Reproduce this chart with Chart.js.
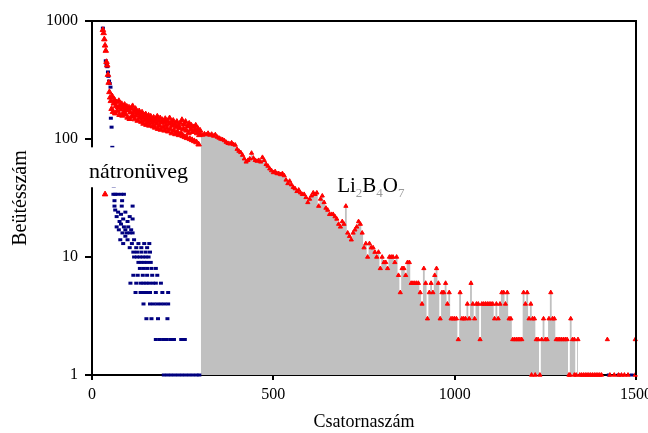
<!DOCTYPE html>
<html><head><meta charset="utf-8">
<script src="https://cdn.jsdelivr.net/npm/chart.js@4.4.1/dist/chart.umd.min.js"></script>
<style>html,body{margin:0;padding:0;background:#fff;} canvas{display:block;}</style>
</head><body>
<canvas id="c" width="648" height="433"></canvas>
<script>
// ---- tick labels & texts ----
const xTickValues = [0, 500, 1000, 1500];
const yTickValues = [1, 10, 100, 1000];
const xTitle = 'Csatornaszám';
const yTitle = 'Beütésszám';
const natronName = 'nátronüveg';
const liNameParts = [['Li', false], ['2', true], ['B', false], ['4', true], ['O', false], ['7', true]];

// ---- Li2B4O7 spectrum (red triangles) ----
const liHeadChannels = [30, 32, 34, 36, 38, 40, 42, 44, 46, 48, 50];
const liHeadCounts = [840, 790, 700, 620, 560, 450, 420, 350, 300, 250, 225];

const liBlobStart = 52, liBlobStep = 2;
const liBlobCounts = [
  210,180,230,170,200,215,165,190,205,172,185,210,160,192,178,198,158,185,170,195,
  162,180,188,152,175,185,148,168,182,155,190,160,172,147,180,158,170,143,165,172,
  150,160,140,168,152,135,158,145,162,132,150,140,158,130,148,155,136,145,128,152,
  140,125,148,135,155,122,142,130,150,120,138,145,126,140,118,148,132,124,142,116,
  135,150,122,138,112,130,143,118,134,110,126,140,115,130,108,124,136,112,145,106,
  122,133,104,140,118,102,128,112,135,100,120,130,98,115,126,96,118,130,94,112,
  122,90,108,118
];

const liTailStart = 300, liTailStep = 5;
const liTailCounts = [
  110,108,111,109,112,108,110,106,109,104,
  102,100,99,97,94,92,91,93,90,89,
  82,79,77,73,68,64,66,68,76,69,
  66,65,66,64,70,66,61,59,56,54,
  52,53,51,51,50,51,49,45,42,44,
  41,39,38,36,37,35,34,34,32,29,
  31,33,35,34,35,27,31,33,29,26,
  25,23,23,23,22,21,19,18,20,19,
  27,16,15,14,16,17,18,20,19,16,
  12,13,10,13,12,12,11,10,11,8,
  10,9,9,8,10,10,10,9,10,7,
  5,8,8,7,9,9,6,6,6,6,
  6,5,4,8,6,3,5,6,5,7,
  8,6,3,5,5,6,4,5,3,3,
  3,3,2,5,3,3,3,4,3,6,
  4,3,4,4,2,4,4,4,4,4,
  4,4,3,4,3,4,5,5,4,5,
  3,3,2,2,2,2,2,2,5,4,
  5,3,4,3,3,2,2,1,2,3,
  2,2,3,5,3,3,2,2,2,2,
  2,2,2,1,3,2,2,1,2
];

const liExtraChannels = [36, 1212, 1222, 1318, 1330,
  1345,1350,1355,1360,1365,1370,1375,1380,1385,1390,1395,1400,1405,
  1421,1428,1440,1452,1460,1468,1478,1498,1498];
const liExtraCounts = [34, 1, 1, 1, 1,
  1,1,1,1,1,1,1,1,1,1,1,1,1,
  2,1,1,1,1,1,1,2,1];

// ---- nátronüveg spectrum (blue dashes) ----
const natronChannels = [
  30,38,40,42,44,45,47,49,51,52,54,56,58,60,
  59,64,70,80,88, 62,83, 62,82,112,
  64,68,72,76,80,86,92,98,104,112,
  68,74,80,84,88,92,96,100,104,108,112,
  78,86,92,98,104,110,116,122,128,136,144,152,158,
  114,124,136,148,160,
  116,124,132,140,148,156,
  128,136,144,152,162,
  132,142,152,164,176,
  114,126,140,152,166,180,
  106,122,134,142,150,158,168,176,190,
  120,134,142,150,160,176,194,210,
  142,160,170,180,190,200,210,
  150,164,182,208,
  176,186,196,206,216,226,246,256,
  198,208,218,228,238,248,258,268,278,288,296,
  1425,1452,1488
];
const natronCounts = [
  870,460,430,410,370,340,310,295,275,150,126,85,55,40,
  34,34,34,34,34, 30,30, 27,27,27,
  25,22,24,20,23,21,24,20,22,21,
  18,17,19,16,18,17,16,18,16,17,16,
  14,13,15,14,12,13,14,12,13,12,13,12,13,
  11,11,11,11,11,
  10,10,10,10,10,10,
  9,9,9,9,9,
  8,8,8,8,8,
  7,7,7,7,7,7,
  6,6,6,6,6,6,6,6,6,
  5,5,5,5,5,5,5,5,
  4,4,4,4,4,4,4,
  3,3,3,3,
  2,2,2,2,2,2,2,2,
  1,1,1,1,1,1,1,1,1,1,1,
  1,1,1
];

// ---- label anchors (data coordinates) ----
const natronBox = {ch0: -16, ch1: 288, top: 85, bottom: 39};
const natronText = {ch: -8, count: 47};
const liText = {ch: 676, count: 35.5};

// ---- build points ----
const pairs = (chs, cnts) => chs.map((c, i) => ({x: c, y: cnts[i]}));
const tailPts = liTailCounts.map((v, i) => ({x: liTailStart + i * liTailStep, y: v}));
const liPts = [
  ...pairs(liHeadChannels, liHeadCounts),
  ...liBlobCounts.map((v, i) => ({x: liBlobStart + i * liBlobStep, y: v})),
  ...tailPts,
  ...pairs(liExtraChannels, liExtraCounts)
];
const natronPts = pairs(natronChannels, natronCounts);

const SERIF = "'Liberation Serif', 'Times New Roman', serif";

const overlay = {
  id: 'overlay',
  afterDraw(chart) {
    const {ctx, chartArea: a, scales: {x, y}} = chart;
    ctx.save();
    ctx.strokeStyle = '#000';
    ctx.lineWidth = 2;
    ctx.beginPath();
    ctx.moveTo(a.left - 1, a.top);
    ctx.lineTo(a.right, a.top);
    ctx.lineTo(a.right, a.bottom);
    ctx.stroke();
    const bx0 = x.getPixelForValue(natronBox.ch0), bx1 = x.getPixelForValue(natronBox.ch1);
    const by0 = y.getPixelForValue(natronBox.top), by1 = y.getPixelForValue(natronBox.bottom);
    ctx.fillStyle = '#fff';
    ctx.fillRect(bx0, by0, bx1 - bx0, by1 - by0);
    ctx.fillStyle = '#000';
    ctx.font = '22px ' + SERIF;
    ctx.textBaseline = 'alphabetic';
    ctx.textAlign = 'left';
    ctx.fillText(natronName, x.getPixelForValue(natronText.ch), y.getPixelForValue(natronText.count));
    let px = x.getPixelForValue(liText.ch);
    const py = y.getPixelForValue(liText.count);
    for (const [t, sub] of liNameParts) {
      if (sub) {
        ctx.font = '13px ' + SERIF;
        ctx.fillStyle = '#999';
        ctx.fillText(t, px, py + 5);
      } else {
        ctx.font = '21px ' + SERIF;
        ctx.fillStyle = '#000';
        ctx.fillText(t, px, py);
      }
      px += ctx.measureText(t).width;
    }
    ctx.restore();
  }
};

new Chart(document.getElementById('c'), {
  type: 'scatter',
  data: {
    datasets: [
      {label: 'Li2B4O7', data: liPts, showLine: false, pointStyle: 'triangle',
       pointRadius: c => (c.raw && c.raw.x < 300 ? 3.2 : 2.4),
       pointBackgroundColor: '#ff0000', pointBorderColor: '#ff0000', pointBorderWidth: 1, clip: false},
      {label: natronName, data: natronPts, showLine: false, pointStyle: 'line', pointRadius: 2,
       pointBorderColor: '#000080', pointBackgroundColor: '#000080', pointBorderWidth: 3, clip: false},
      {type: 'line', label: 'area', data: tailPts, fill: 'start', backgroundColor: '#c0c0c0',
       borderColor: 'rgba(0,0,0,0)', borderWidth: 0, pointRadius: 0, tension: 0, stepped: 'middle'}
    ]
  },
  options: {
    responsive: false,
    animation: false,
    devicePixelRatio: 1,
    layout: {padding: {top: 21, right: 12, left: 0, bottom: 0}},
    plugins: {legend: {display: false}, tooltip: {enabled: false}},
    scales: {
      x: {
        type: 'linear', min: 0, max: 1500, position: 'bottom',
        afterBuildTicks: s => { s.ticks = xTickValues.map(v => ({value: v})); },
        afterFit: s => { s.height = 58; s.paddingLeft = 0; s.paddingRight = 0; },
        ticks: {font: {family: SERIF, size: 16}, color: '#000', padding: 5, maxRotation: 0, autoSkip: false,
                callback: v => String(v)},
        grid: {drawOnChartArea: false, drawTicks: true, tickLength: 5, color: '#000', lineWidth: 2},
        border: {display: true, color: '#000', width: 2},
        title: {display: true, text: xTitle, font: {family: SERIF, size: 18}, color: '#000', padding: {top: 0, bottom: 0}}
      },
      y: {
        type: 'logarithmic', min: 1, max: 1000,
        afterBuildTicks: s => { s.ticks = yTickValues.map(v => ({value: v})); },
        afterFit: s => { s.width = 92; s.paddingTop = 0; s.paddingBottom = 0; },
        ticks: {font: {family: SERIF, size: 16}, color: '#000', padding: 7, callback: v => String(v)},
        grid: {drawOnChartArea: false, drawTicks: true, tickLength: 7, color: '#000', lineWidth: 2},
        border: {display: true, color: '#000', width: 2},
        title: {display: true, text: yTitle, font: {family: SERIF, size: 20}, color: '#000', padding: {top: 9, bottom: 0}}
      }
    }
  },
  plugins: [overlay]
});
</script>
</body></html>
